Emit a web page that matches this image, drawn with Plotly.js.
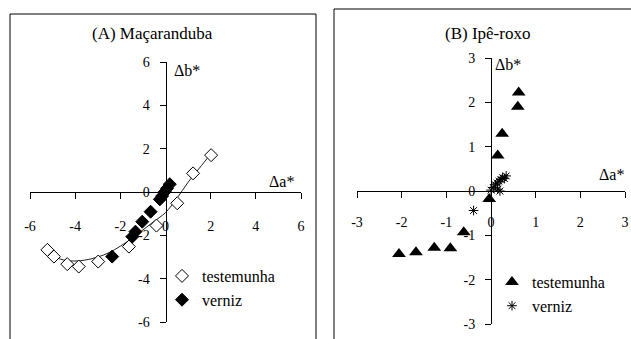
<!DOCTYPE html>
<html>
<head>
<meta charset="utf-8">
<script src="https://cdn.plot.ly/plotly-3.0.1.min.js"></script>
<style>
  html, body { margin: 0; padding: 0; background: #fff; }
  #plot { width: 631px; height: 339px; }
</style>
</head>
<body>
<div id="plot"></div>
<script>
// (A) Maçaranduba
const macTestX = [-5.23, -4.94, -4.35, -3.84, -2.98, -1.62, -0.40, 0.52, 1.22, 2.02];
const macTestY = [-2.67, -2.98, -3.33, -3.44, -3.21, -2.52, -1.55, -0.52, 0.86, 1.70];
// trend curve through the testemunha points
const macCurveX = [-5.3, -4.8, -4.2, -3.6, -3.0, -2.5, -2.0, -1.5, -1.0, -0.5, 0.0, 0.5, 1.0, 1.5, 2.0];
const macCurveY = [-2.75, -3.05, -3.18, -3.15, -3.0, -2.8, -2.5, -2.15, -1.75, -1.35, -0.95, -0.3, 0.45, 1.1, 1.75];
const macVernX = [-2.36, -1.47, -1.33, -1.03, -0.66, -0.25, -0.15, -0.03, 0.07, 0.19];
const macVernY = [-2.98, -2.06, -1.83, -1.37, -0.91, -0.34, -0.19, 0.01, 0.17, 0.36];

// (B) Ipê-roxo
const ipeTestX = [-2.06, -1.68, -1.27, -0.91, -0.61, -0.04, 0.15, 0.25, 0.60, 0.62];
const ipeTestY = [-1.42, -1.38, -1.28, -1.29, -0.93, -0.18, 0.80, 1.29, 1.90, 2.22];
const ipeVernX = [-0.39, 0.00, 0.05, 0.10, 0.14, 0.18, 0.22, 0.26, 0.30, 0.34, 0.15, 0.20];
const ipeVernY = [-0.44, 0.02, 0.08, 0.14, 0.18, 0.22, 0.26, 0.30, 0.28, 0.34, 0.04, 0.00];

const titles = ['(A) Maçaranduba', '(B) Ipê-roxo'];
const seriesNames = ['testemunha', 'verniz'];

// tick values and labels (plain hyphen, as in the original)
const ticksA = [-6, -4, -2, 0, 2, 4, 6];
const ticksB = [-3, -2, -1, 0, 1, 2, 3];
const tickText = v => v.map(t => String(t));

const W = 631, H = 339;
const px = v => v / W;          // pixel x -> paper
const py = v => (H - v) / H;    // pixel y -> paper

const serif = 'Liberation Serif';

const data = [
    {
        x: macCurveX, y: macCurveY, xaxis: 'x', yaxis: 'y',
        mode: 'lines', line: { color: '#222', width: 1, shape: 'spline' },
        showlegend: false, hoverinfo: 'skip'
    },
    {
        x: macTestX, y: macTestY, xaxis: 'x', yaxis: 'y',
        mode: 'markers', name: seriesNames[0], legend: 'legend',
        marker: { symbol: 'diamond', size: 10, color: '#fff', line: { color: '#000', width: 1 } }
    },
    {
        x: macVernX, y: macVernY, xaxis: 'x', yaxis: 'y',
        mode: 'markers', name: seriesNames[1], legend: 'legend',
        marker: { symbol: 'diamond', size: 10, color: '#000', line: { color: '#000', width: 1 } }
    },
    {
        x: ipeTestX, y: ipeTestY, xaxis: 'x2', yaxis: 'y2',
        mode: 'markers', name: seriesNames[0], legend: 'legend2',
        marker: { symbol: 'triangle-up', size: 12, color: '#000' }
    },
    {
        x: ipeVernX, y: ipeVernY, xaxis: 'x2', yaxis: 'y2',
        mode: 'markers', name: seriesNames[1], legend: 'legend2',
        marker: { symbol: 'asterisk-open', size: 8, color: '#000', line: { color: '#000', width: 1 } }
    }
];

const axisStyle = {
    showgrid: false, zeroline: false, showline: true,
    linecolor: '#000', linewidth: 1,
    ticks: 'outside', ticklen: 6, tickcolor: '#000', tickwidth: 1,
    tickmode: 'array',
    tickfont: { family: serif, size: 14, color: '#000' },
    anchor: 'free', fixedrange: true
};

const legendStyle = {
    xanchor: 'left', yanchor: 'top',
    bgcolor: 'rgba(0,0,0,0)', font: { family: serif, size: 16, color: '#000' },
    itemwidth: 30, tracegroupgap: 0
};

const layout = {
    width: W, height: H,
    margin: { l: 0, r: 0, t: 0, b: 0 },
    paper_bgcolor: '#fff', plot_bgcolor: 'rgba(0,0,0,0)',
    font: { family: serif, color: '#000' },
    xaxis: Object.assign({}, axisStyle, {
        domain: [px(30), px(301)], range: [-6, 6],
        tickvals: ticksA, ticktext: tickText(ticksA),
        position: py(192), ticklabelstandoff: 15
    }),
    yaxis: Object.assign({}, axisStyle, {
        domain: [py(322), py(62)], range: [-6, 6],
        tickvals: ticksA, ticktext: tickText(ticksA),
        position: px(165.5), ticklabelstandoff: 7
    }),
    xaxis2: Object.assign({}, axisStyle, {
        domain: [px(357), px(625)], range: [-3, 3],
        tickvals: ticksB, ticktext: tickText(ticksB),
        position: py(191), ticklabelstandoff: 12
    }),
    yaxis2: Object.assign({}, axisStyle, {
        domain: [py(324), py(58)], range: [-3, 3],
        tickvals: ticksB, ticktext: tickText(ticksB),
        position: px(491), ticklabelstandoff: 7
    }),
    legend: Object.assign({}, legendStyle, { x: px(162), y: py(259) }),
    legend2: Object.assign({}, legendStyle, { x: px(492), y: py(265) }),
    shapes: [
        { type: 'rect', xref: 'paper', yref: 'paper',
          x0: px(10), x1: px(316), y0: -0.1, y1: py(14),
          line: { color: '#000', width: 1 } },
        { type: 'rect', xref: 'paper', yref: 'paper',
          x0: px(334), x1: 1.05, y0: -0.1, y1: py(9),
          line: { color: '#000', width: 1 } }
    ],
    annotations: [
        { text: titles[0], xref: 'paper', yref: 'paper', x: px(152), y: py(34),
          xanchor: 'center', yanchor: 'middle',
          showarrow: false, font: { family: serif, size: 17 } },
        { text: titles[1], xref: 'paper', yref: 'paper', x: px(487), y: py(33),
          xanchor: 'center', yanchor: 'middle',
          showarrow: false, font: { family: serif, size: 17 } },
        { text: 'Δb*', xref: 'x', yref: 'y', x: 0.3, y: 5.6, xanchor: 'left', yanchor: 'middle',
          showarrow: false, font: { family: serif, size: 16 } },
        { text: 'Δa*', xref: 'x', yref: 'y', x: 4.5, y: 0.5, xanchor: 'left', yanchor: 'middle',
          showarrow: false, font: { family: serif, size: 16 } },
        { text: 'Δb*', xref: 'x2', yref: 'y2', x: 0.04, y: 2.85, xanchor: 'left', yanchor: 'middle',
          showarrow: false, font: { family: serif, size: 16 } },
        { text: 'Δa*', xref: 'x2', yref: 'y2', x: 2.38, y: 0.38, xanchor: 'left', yanchor: 'middle',
          showarrow: false, font: { family: serif, size: 16 } }
    ]
};

Plotly.newPlot('plot', data, layout, { displayModeBar: false, staticPlot: true });
</script>
</body>
</html>
